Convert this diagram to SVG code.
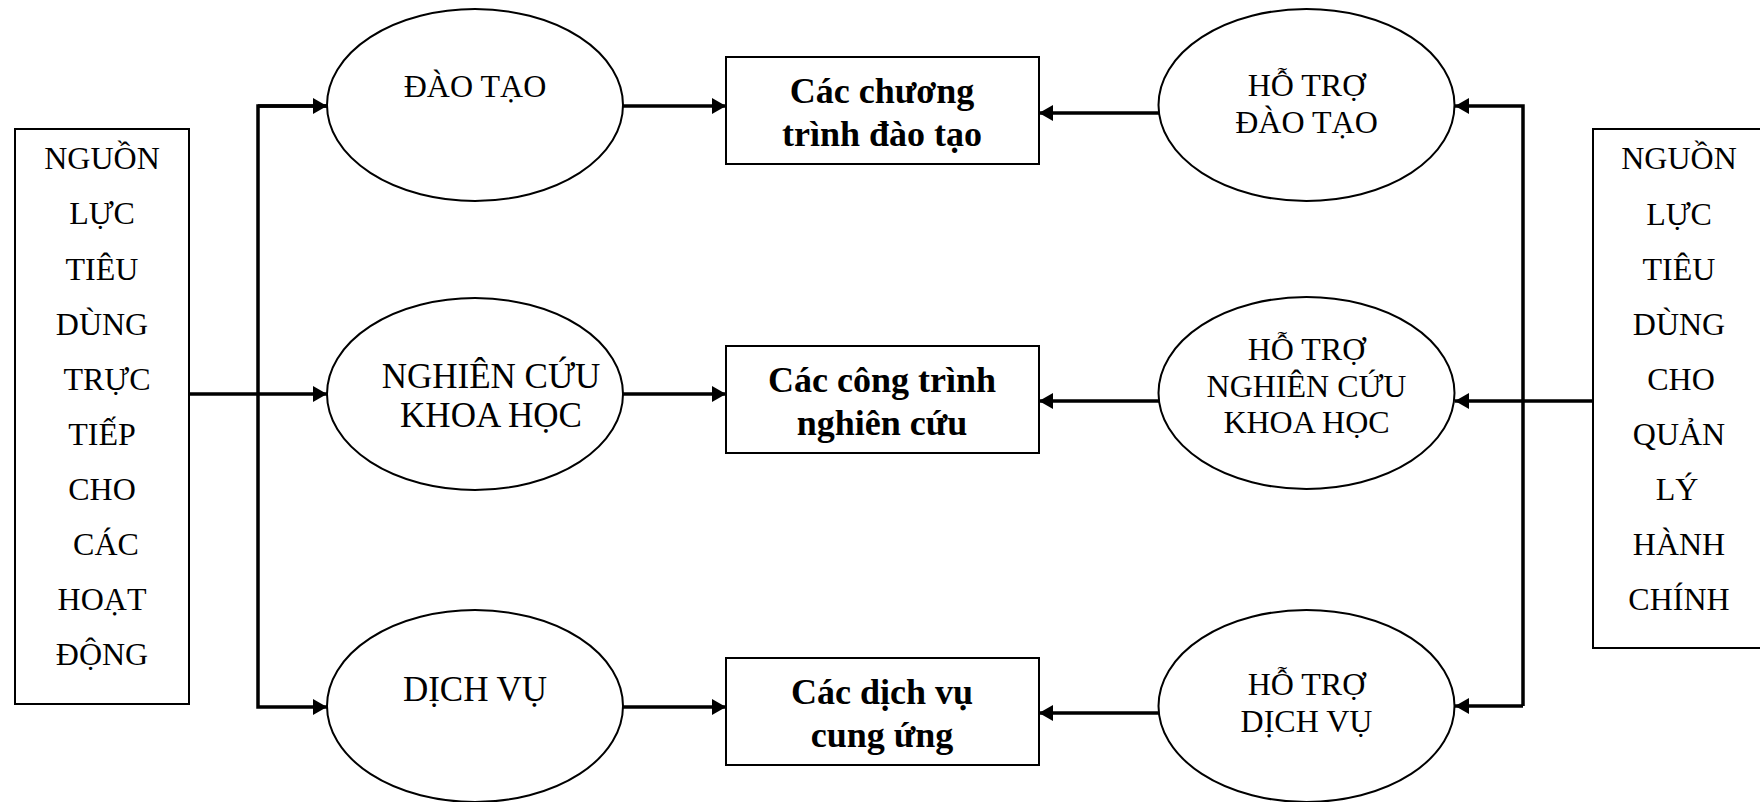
<svg xmlns="http://www.w3.org/2000/svg" width="1760" height="802" viewBox="0 0 1760 802">
  <style>
    .shape { fill: #fff; stroke: #000; stroke-width: 2; }
    .label { font-family: "Liberation Serif", "Times New Roman", serif; font-size: 32px; fill: #000; text-anchor: middle; }
    .big { font-size: 35px; }
    .bold { font-size: 36px; font-weight: bold; }
    .wire { fill: none; stroke: #000; stroke-width: 3.5; }
  </style>
  <defs>
    <marker id="arrow" markerUnits="userSpaceOnUse" markerWidth="15" markerHeight="16" refX="14" refY="8" orient="auto">
      <path d="M0,0 L14,8 L0,16 Z" fill="#000"/>
    </marker>
  </defs>
  <rect width="1760" height="802" fill="#fff"/>

  <!-- connectors -->
  <g id="connectors">
    <!-- left distribution bus -->
    <path class="wire" d="M327,106 H258 V707 H327" marker-end="url(#arrow)"/>
    <path class="wire" d="M258,106 H327" marker-end="url(#arrow)"/>
    <path class="wire" d="M189,394 H327" marker-end="url(#arrow)"/>
    <!-- activities to outputs -->
    <path class="wire" d="M623,106 H726" marker-end="url(#arrow)"/>
    <path class="wire" d="M623,394 H726" marker-end="url(#arrow)"/>
    <path class="wire" d="M623,707 H726" marker-end="url(#arrow)"/>
    <!-- support to outputs -->
    <path class="wire" d="M1159,113 H1039" marker-end="url(#arrow)"/>
    <path class="wire" d="M1159,401 H1039" marker-end="url(#arrow)"/>
    <path class="wire" d="M1159,713 H1039" marker-end="url(#arrow)"/>
    <!-- right distribution bus -->
    <path class="wire" d="M1523,706 V106 H1455" marker-end="url(#arrow)"/>
    <path class="wire" d="M1523,706 H1455" marker-end="url(#arrow)"/>
    <path class="wire" d="M1593,401 H1455" marker-end="url(#arrow)"/>
  </g>

  <!-- left resource box -->
  <g id="nguon-luc-truc-tiep">
    <rect class="shape" x="15" y="129" width="174" height="575"/>
    <text class="label" x="102" y="169">NGUỒN</text>
    <text class="label" x="102" y="224">LỰC</text>
    <text class="label" x="102" y="280">TIÊU</text>
    <text class="label" x="102" y="335">DÙNG</text>
    <text class="label" x="107" y="390">TRỰC</text>
    <text class="label" x="102" y="445">TIẾP</text>
    <text class="label" x="102" y="500">CHO</text>
    <text class="label" x="106" y="555">CÁC</text>
    <text class="label" x="102" y="610">HOẠT</text>
    <text class="label" x="102" y="665">ĐỘNG</text>
  </g>

  <!-- core activities -->
  <g id="dao-tao">
    <ellipse class="shape" cx="475" cy="105" rx="148" ry="96"/>
    <text class="label" x="475" y="97">ĐÀO TẠO</text>
  </g>
  <g id="nghien-cuu">
    <ellipse class="shape" cx="475" cy="394" rx="148" ry="96"/>
    <text class="label big" x="491" y="388">NGHIÊN CỨU</text>
    <text class="label big" x="491" y="427">KHOA HỌC</text>
  </g>
  <g id="dich-vu">
    <ellipse class="shape" cx="475" cy="706" rx="148" ry="96"/>
    <text class="label big" x="475" y="701">DỊCH VỤ</text>
  </g>

  <!-- outputs -->
  <g id="chuong-trinh">
    <rect class="shape" x="726" y="57" width="313" height="107"/>
    <text class="label bold" x="882" y="103">Các chương</text>
    <text class="label bold" x="882" y="146">trình đào tạo</text>
  </g>
  <g id="cong-trinh">
    <rect class="shape" x="726" y="346" width="313" height="107"/>
    <text class="label bold" x="882" y="392">Các công trình</text>
    <text class="label bold" x="882" y="435">nghiên cứu</text>
  </g>
  <g id="dich-vu-cung-ung">
    <rect class="shape" x="726" y="658" width="313" height="107"/>
    <text class="label bold" x="882" y="704">Các dịch vụ</text>
    <text class="label bold" x="882" y="747">cung ứng</text>
  </g>

  <!-- support activities -->
  <g id="ho-tro-dao-tao">
    <ellipse class="shape" cx="1306.5" cy="105" rx="148" ry="96"/>
    <text class="label" x="1306.5" y="96">HỖ TRỢ</text>
    <text class="label" x="1306.5" y="133">ĐÀO TẠO</text>
  </g>
  <g id="ho-tro-nghien-cuu">
    <ellipse class="shape" cx="1306.5" cy="393" rx="148" ry="96"/>
    <text class="label" x="1306.5" y="360">HỖ TRỢ</text>
    <text class="label" x="1306.5" y="397">NGHIÊN CỨU</text>
    <text class="label" x="1306.5" y="433">KHOA HỌC</text>
  </g>
  <g id="ho-tro-dich-vu">
    <ellipse class="shape" cx="1306.5" cy="706" rx="148" ry="96"/>
    <text class="label" x="1306.5" y="695">HỖ TRỢ</text>
    <text class="label" x="1306.5" y="732">DỊCH VỤ</text>
  </g>

  <!-- right resource box -->
  <g id="nguon-luc-quan-ly">
    <rect class="shape" x="1593" y="129" width="200" height="519"/>
    <text class="label" x="1679" y="169">NGUỒN</text>
    <text class="label" x="1679" y="225">LỰC</text>
    <text class="label" x="1679" y="280">TIÊU</text>
    <text class="label" x="1679" y="335">DÙNG</text>
    <text class="label" x="1681" y="390">CHO</text>
    <text class="label" x="1679" y="445">QUẢN</text>
    <text class="label" x="1677" y="500">LÝ</text>
    <text class="label" x="1679" y="555">HÀNH</text>
    <text class="label" x="1679" y="610">CHÍNH</text>
  </g>
</svg>
